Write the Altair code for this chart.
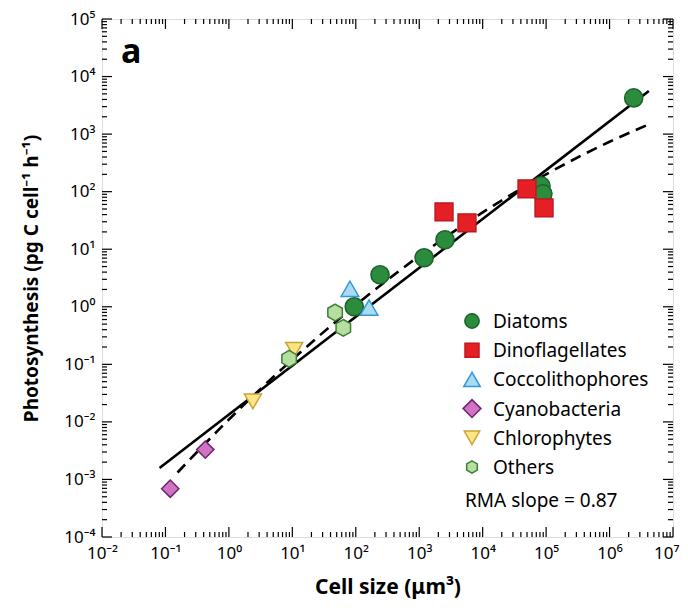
import altair as alt
import pandas as pd

# ---------------- data ----------------
groups = ["Diatoms", "Dinoflagellates", "Coccolithophores",
          "Cyanobacteria", "Chlorophytes", "Others"]

diatom_size = [2.4e6, 8.3e4, 8.9e4, 2550, 1195, 241, 94.6]
diatom_ps = [4250, 126, 91.6, 14.6, 7.1, 3.6, 1.0]
dino_size = [2460, 5660, 5.0e4, 9.27e4]
dino_ps = [44.6, 28.7, 112, 52.4]
cocco_size = [81, 162]
cocco_ps = [2.05, 0.97]
cyano_size = [0.119, 0.425]
cyano_ps = [6.9e-4, 3.3e-3]
chloro_size = [2.39, 10.7]
chloro_ps = [0.0227, 0.179]
others_size = [8.9, 47.2, 63.6]
others_ps = [0.125, 0.796, 0.43]

# RMA fit (solid line) end points
rma_size = [0.0807, 4.16e6]
rma_ps = [1.58e-3, 5620]

# curved fit (dashed line)
curve_size = [0.155, 1, 10, 100, 1000, 1e4, 1e5, 1e6, 3.98e6]
curve_ps = [1.32e-3, 0.011, 0.121, 1.07, 7.64, 43.6, 200, 736, 1445]

x_tick_labels = ["10⁻²", "10⁻¹", "10⁰", "10¹", "10²", "10³", "10⁴", "10⁵", "10⁶", "10⁷"]
y_tick_labels = ["10⁻⁴", "10⁻³", "10⁻²", "10⁻¹", "10⁰", "10¹", "10²", "10³", "10⁴", "10⁵"]
x_exponents = list(range(-2, 8))
y_exponents = list(range(-4, 6))

fills = ["#2a8c3c", "#e41f26", "#a9dcf2", "#cf73c2", "#fde583", "#b5dfa0"]
strokes = ["#1d6129", "#c0181f", "#3399d6", "#6e2470", "#c9a23a", "#3f7d35"]
hexagon = "M0,-1L0.866,-0.5L0.866,0.5L0,1L-0.866,0.5L-0.866,-0.5Z"
shapes = ["circle", "square", "triangle-up", "diamond", "triangle-down", hexagon]
sizes = [330, 280, 330, 440, 350, 320]
legend_sizes = [205, 196, 270, 320, 240, 150]

# ---------------- tables ----------------
series = [diatom_size, dino_size, cocco_size, cyano_size, chloro_size, others_size]
values = [diatom_ps, dino_ps, cocco_ps, cyano_ps, chloro_ps, others_ps]
pts = pd.concat([
    pd.DataFrame({"size": s, "ps": v, "group": g})
    for g, s, v in zip(groups, series, values)
], ignore_index=True)
pts["order"] = range(len(pts))

rma = pd.DataFrame({"size": rma_size, "ps": rma_ps})
curve = pd.DataFrame({"size": curve_size, "ps": curve_ps})

x_major = [10.0 ** k for k in x_exponents]
y_major = [10.0 ** k for k in y_exponents]
x_minor = [m * 10.0 ** k for k in x_exponents[:-1] for m in range(2, 10)]
y_minor = [m * 10.0 ** k for k in y_exponents[:-1] for m in range(2, 10)]

W, H = 571, 518
FONT = "Noto Sans"

xscale = alt.Scale(type="log", domain=[1e-2, 1e7], nice=False)
yscale = alt.Scale(type="log", domain=[1e-4, 1e5], nice=False)


def label_expr(exps, labels):
    expr = f"'{labels[-1]}'"
    for k, lab in reversed(list(zip(exps[:-1], labels[:-1]))):
        expr = f"datum.value < {10 ** (k + 0.5):.6g} ? '{lab}' : ({expr})"
    return expr


x_axis = alt.Axis(values=x_major, labelExpr=label_expr(x_exponents, x_tick_labels),
                  ticks=False, domain=False, grid=False,
                  labelFontSize=17, labelFont=FONT, labelColor="black", labelPadding=8,
                  labelFlush=False, labelOverlap=False,
                  labelAlign=alt.ExprRef(expr="datum.value > 3e6 ? 'right' : 'center'"),
                  labelOffset=alt.ExprRef(expr="datum.value > 3e6 ? 6 : 0"),
                  title="Cell size (μm³)", titleFont=FONT, titleFontSize=21, titleFontWeight="bold",
                  titleColor="black", titlePadding=15)
y_axis = alt.Axis(values=y_major, labelExpr=label_expr(y_exponents, y_tick_labels),
                  ticks=False, domain=False, grid=False,
                  labelFontSize=17, labelFont=FONT, labelColor="black", labelPadding=7,
                  labelFlush=False, labelOverlap=False,
                  title="Photosynthesis (pg C cell⁻¹ h⁻¹)", titleFont=FONT, titleFontSize=19,
                  titleFontWeight="bold", titleColor="black", titlePadding=22)

# ---------------- layers ----------------
solid = alt.Chart(rma).mark_line(color="black", strokeWidth=2.6).encode(
    x=alt.X("size:Q", scale=xscale, axis=x_axis),
    y=alt.Y("ps:Q", scale=yscale, axis=y_axis),
)
dashed = alt.Chart(curve).mark_line(color="black", strokeWidth=2.6, strokeDash=[11, 7],
                                    interpolate="monotone").encode(
    x=alt.X("size:Q", scale=xscale, axis=x_axis),
    y=alt.Y("ps:Q", scale=yscale, axis=y_axis),
)

points = alt.Chart(pts).mark_point(filled=True, opacity=1, strokeWidth=1.5).encode(
    x=alt.X("size:Q", scale=xscale, axis=x_axis),
    y=alt.Y("ps:Q", scale=yscale, axis=y_axis),
    fill=alt.Fill("group:N", scale=alt.Scale(domain=groups, range=fills), legend=None),
    stroke=alt.Stroke("group:N", scale=alt.Scale(domain=groups, range=strokes), legend=None),
    shape=alt.Shape("group:N", scale=alt.Scale(domain=groups, range=shapes), legend=None),
    size=alt.Size("group:N", scale=alt.Scale(domain=groups, range=sizes), legend=None),
    order=alt.Order("order:Q"),
)

# inward ticks on all four sides
xt_major = pd.DataFrame({"v": x_major})
xt_minor = pd.DataFrame({"v": x_minor})
yt_major = pd.DataFrame({"v": y_major})
yt_minor = pd.DataFrame({"v": y_minor})

tick_layers = []
for df, L in [(xt_major, 10), (xt_minor, 5)]:
    for y0, y1 in [(H, H - L), (0, L)]:
        tick_layers.append(
            alt.Chart(df).mark_rule(color="black", strokeWidth=1.2).encode(
                x=alt.X("v:Q", scale=xscale, axis=x_axis),
                y=alt.value(y0), y2=alt.value(y1),
            )
        )
for df, L in [(yt_major, 10), (yt_minor, 5)]:
    for x0, x1 in [(0, L), (W, W - L)]:
        tick_layers.append(
            alt.Chart(df).mark_rule(color="black", strokeWidth=1.2).encode(
                y=alt.Y("v:Q", scale=yscale, axis=y_axis),
                x=alt.value(x0), x2=alt.value(x1),
            )
        )

# legend (drawn inside the plot, as in the reference)
LEG_X, LEG_Y, LEG_STEP = 370, 302, 29.2
legend_layers = []
for i, g in enumerate(groups):
    one = pd.DataFrame({"group": [g]})
    legend_layers.append(
        alt.Chart(one).mark_point(filled=True, opacity=1, strokeWidth=1.5,
                                  shape=shapes[i], size=legend_sizes[i],
                                  fill=fills[i], stroke=strokes[i]).encode(
            x=alt.value(LEG_X), y=alt.value(LEG_Y + i * LEG_STEP),
        )
    )
    legend_layers.append(
        alt.Chart(one).mark_text(font=FONT, fontSize=19, align="left", baseline="middle",
                                 color="black").encode(
            text="group:N", x=alt.value(LEG_X + 21), y=alt.value(LEG_Y + i * LEG_STEP + 1),
        )
    )

panel_label = alt.Chart(pd.DataFrame({"t": ["a"]})).mark_text(
    font=FONT, fontSize=34, fontWeight="bold", align="left", baseline="alphabetic", color="black"
).encode(text="t:N", x=alt.value(19), y=alt.value(44))

rma_text = alt.Chart(pd.DataFrame({"t": ["RMA slope = 0.87"]})).mark_text(
    font=FONT, fontSize=19, align="left", baseline="middle", color="black"
).encode(text="t:N", x=alt.value(363), y=alt.value(482))

chart = alt.layer(
    *tick_layers, solid, dashed, points, *legend_layers, panel_label, rma_text
).properties(
    width=W, height=H,
    autosize=alt.AutoSizeParams(type="none"),
    padding={"left": 94, "top": 11, "right": 7, "bottom": 63},
).configure_view(
    stroke="black", strokeWidth=1.6
).configure(background="white")

chart.save("out.html", embed_options={"renderer": "svg", "actions": False})
